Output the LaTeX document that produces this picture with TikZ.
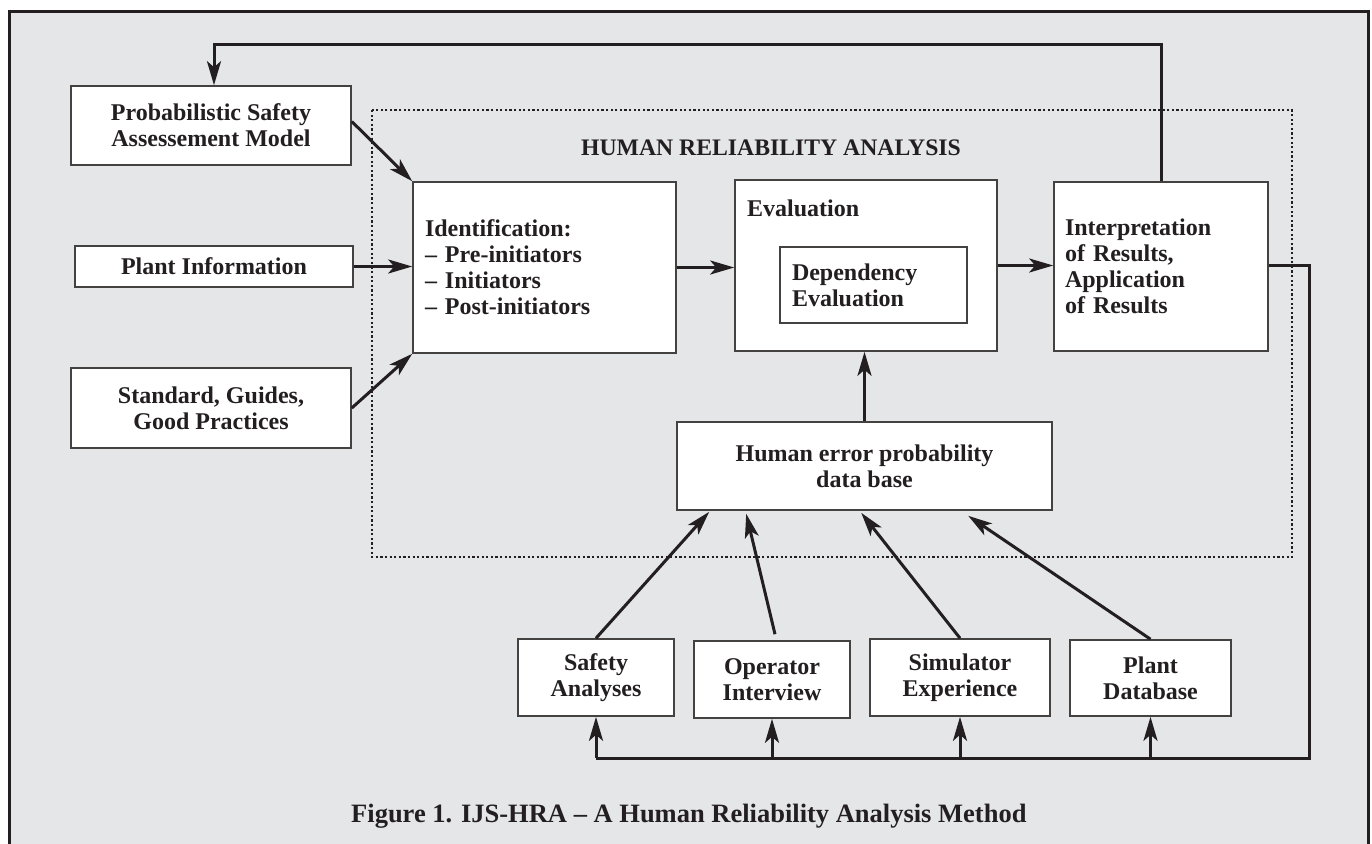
\documentclass[tikz,border=0pt]{standalone}
\usepackage{fontspec}
\setmainfont{Liberation Serif}
\usetikzlibrary{arrows.meta,calc}
\definecolor{panel}{HTML}{E5E6E8}
\definecolor{ink}{HTML}{231F20}
\begin{document}
\begin{tikzpicture}[x=1pt,y=-1pt,
  txt/.style={font=\fontsize{24}{26}\selectfont\bfseries, text=ink},
  box/.style={txt, draw=ink!85, line width=1.6pt, fill=white, inner sep=0pt},
  conn/.style={draw=ink, line width=3pt},
  arr/.style={conn, -{Stealth[length=24pt,width=14pt,inset=6pt]}},
]
\useasboundingbox (0,0) rectangle (1372,843);
\clip (0,0) rectangle (1372,843);

% framed grey panel
\fill[panel] (9,12) rectangle (1368,880);
\draw[ink, line width=3pt] (9,880) -- (9,12) -- (1368,12) -- (1368,880);

% dotted boundary of the HRA stage
\draw[ink, line width=2.2pt, dash pattern=on 2.2pt off 2.4pt] (372,110) rectangle (1292,557);
\node[font=\fontsize{23.7}{26}\selectfont\bfseries, text=ink, anchor=base] (hra) at (771,155) {HUMAN RELIABILITY ANALYSIS};

% input boxes
\node[box, minimum width=280pt, minimum height=79pt, align=center] (psa) at (211,125.5) {Probabilistic Safety\\Assessement Model};
\node[box, minimum width=278pt, minimum height=41pt] (pi) at (214,266.5) {Plant Information};
\node[box, minimum width=280pt, minimum height=80pt, align=center] (std) at (211,408) {Standard, Guides,\\Good Practices};

% analysis stages
\node[box, minimum width=263pt, minimum height=171pt, text width=239pt, align=left] (ident) at (544.5,267.5)
  {Identification:\\– Pre-initiators\\– Initiators\\– Post-initiators};
\node[box, minimum width=262pt, minimum height=171pt] (eval) at (866,265.5) {};
\node[txt, anchor=base west, inner sep=0pt] (evallbl) at (747,216) {Evaluation};
\node[box, minimum width=187pt, minimum height=76pt, text width=163pt, align=left] (dep) at (873.5,285) {Dependency\\Evaluation};
\node[box, minimum width=214pt, minimum height=169pt, text width=192pt, align=left] (interp) at (1161,266.5)
  {Interpretation\\of Results,\\Application\\of Results};
\node[box, minimum width=375pt, minimum height=88pt, align=center] (hep) at (864.5,466) {Human error probability\\data base};

% data sources
\node[box, minimum width=156pt, minimum height=77pt, align=center] (sa) at (596,677.5) {Safety\\Analyses};
\node[box, minimum width=155.5pt, minimum height=77pt, align=center] (oi) at (772,679.5) {Operator\\Interview};
\node[box, minimum width=180pt, minimum height=77pt, align=center] (se) at (960,677.5) {Simulator\\Experience};
\node[box, minimum width=161pt, minimum height=76pt, align=center] (pd) at (1150.5,678) {Plant\\Database};

% caption
\node[font=\fontsize{26.5}{28}\selectfont\bfseries, text=ink, anchor=base west, inner sep=0pt] (cap) at (351,822)
  {Figure 1. IJS-HRA – A Human Reliability Analysis Method};

% inputs into identification
\draw[arr] ($(psa.east)+(0,-4)$) -- (ident.north west);
\draw[arr] (pi.east) -- (pi.east -| ident.west);
\draw[arr] (std.east) -- (ident.south west);

% main flow
\draw[arr] (ident.east) -- (ident.east -| eval.west);
\draw[arr] (eval.east) -- (eval.east -| interp.west);
\draw[arr] (hep.north) -- (hep.north |- eval.south);

% feedback to the PSA model
\coordinate (fbtop) at (214,45);
\draw[arr] (interp.north) |- (fbtop) -- (fbtop |- psa.north);

% feedback to the data sources
\coordinate (busr) at (1309,758);
\draw[conn] ($(interp.east)+(0,-1.5)$) -| (busr) -- (sa.south |- busr);
\draw[arr] (sa.south |- busr) -- (sa.south);
\draw[arr] (oi.south |- busr) -- (oi.south);
\draw[arr] (se.south |- busr) -- (se.south);
\draw[arr] (pd.south |- busr) -- (pd.south);

% data sources feeding the HEP data base
\draw[arr] (sa.north) -- ($(hep.south west)+(33,1)$);
\draw[arr] ($(oi.north)+(3,-6)$) -- ($(hep.south west)+(70,3)$);
\draw[arr] (se.north) -- ($(hep.south west)+(185,2)$);
\draw[arr] (pd.north) -- ($(hep.south west)+(292,5)$);
\end{tikzpicture}
\end{document}
